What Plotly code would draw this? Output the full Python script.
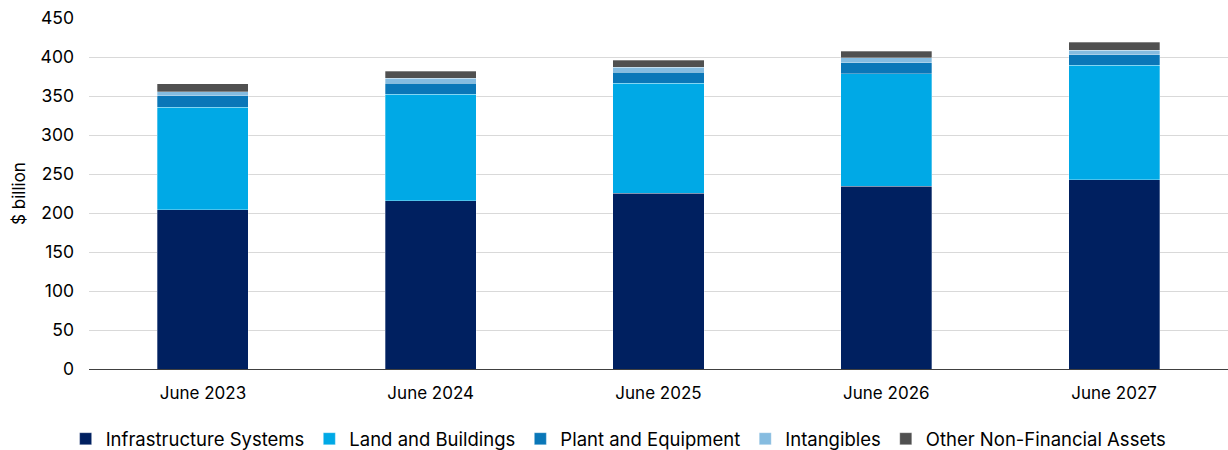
import plotly.graph_objects as go

categories = ["June 2023", "June 2024", "June 2025", "June 2026", "June 2027"]
infrastructure = [204.0, 215.5, 225.5, 234.5, 242.5]
land_buildings = [131.5, 137.0, 140.7, 144.0, 147.0]
plant_equipment = [15.0, 13.7, 14.0, 14.0, 13.5]
intangibles = [5.0, 6.4, 6.4, 6.5, 5.5]
other_nfa = [10.0, 9.3, 9.4, 8.6, 10.5]

series = [
    ("Infrastructure Systems", infrastructure, "#002060"),
    ("Land and Buildings", land_buildings, "#00A9E6"),
    ("Plant and Equipment", plant_equipment, "#0A77B8"),
    ("Intangibles", intangibles, "#86BCE0"),
    ("Other Non-Financial Assets", other_nfa, "#505050"),
]

fig = go.Figure()
for name, vals, col in series:
    fig.add_trace(go.Bar(
        x=categories, y=vals, name=name,
        marker=dict(color=col, line=dict(color="rgba(255,255,255,0.6)", width=0.5)),
    ))

font_family = "Inter, Roboto, Arial, sans-serif"
fig.update_layout(
    barmode="stack",
    bargap=0.6,
    width=1228, height=450,
    margin=dict(l=89, r=0, t=18, b=81),
    plot_bgcolor="white", paper_bgcolor="white",
    font=dict(family=font_family, size=17, color="#000000"),
    yaxis=dict(
        range=[0, 450], dtick=50, showgrid=True, gridcolor="#D9D9D9", gridwidth=1,
        zeroline=False, showline=False, ticks="", ticklabelstandoff=14,
        title=dict(text="$ billion", font=dict(size=17), standoff=10),
        tickfont=dict(size=17.5),
        automargin=False,
    ),
    xaxis=dict(
        showline=True, linecolor="#404040", linewidth=1, ticks="",
        ticklabelstandoff=9,
        tickfont=dict(size=17), automargin=False,
    ),
    legend=dict(
        orientation="h", xref="paper", x=0.465, xanchor="center",
        yref="container", y=0.024, yanchor="middle",
        font=dict(size=18.5), traceorder="normal", itemwidth=30,
    ),
)

fig.write_html("out.html", config={"displayModeBar": False},
               post_script="document.body.style.margin='0';")
